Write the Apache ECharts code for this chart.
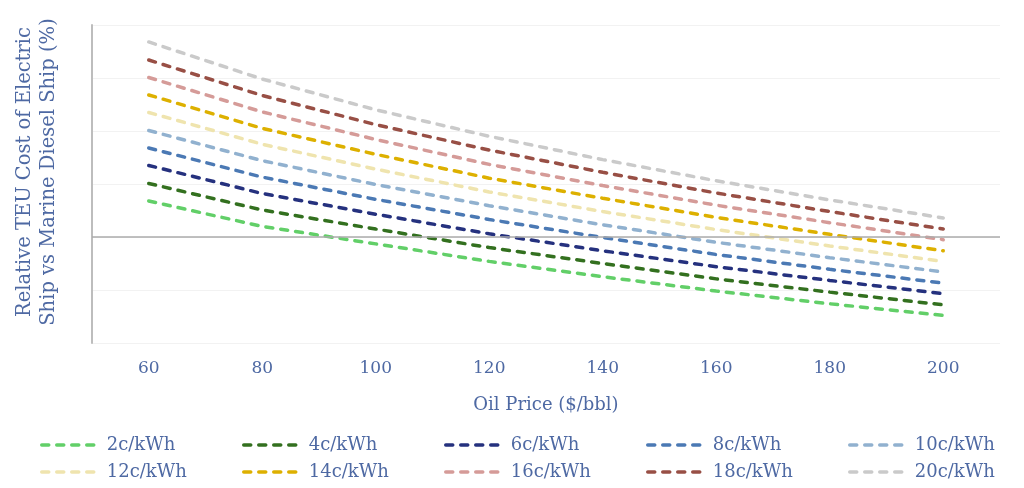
<!DOCTYPE html>
<html>
<head>
<meta charset="utf-8">
<script src="https://cdn.jsdelivr.net/npm/echarts@6/dist/echarts.min.js"></script>
<style>
  html, body { margin: 0; padding: 0; background: #fff; }
  #chart { width: 1024px; height: 488px; }
</style>
</head>
<body>
<div id="chart"></div>
<script>
// oil price categories ($/bbl)
var oilPrices = ['60', '80', '100', '120', '140', '160', '180', '200']

// relative TEU cost (%), one array per power price
var cost2c  = [6.8, 2.0, -1.3, -4.6, -7.5, -10.2, -12.6, -14.8]
var cost4c  = [10.1, 5.1, 1.5, -2.0, -5.0, -7.9, -10.4, -12.8]
var cost6c  = [13.5, 8.2, 4.3, 0.6, -2.6, -5.6, -8.2, -10.7]
var cost8c  = [16.8, 11.3, 7.1, 3.3, -0.1, -3.3, -6.1, -8.7]
var cost10c = [20.1, 14.4, 9.9, 5.9, 2.3, -1.0, -3.9, -6.6]
var cost12c = [23.5, 17.5, 12.8, 8.5, 4.8, 1.4, -1.7, -4.6]
var cost14c = [26.8, 20.5, 15.6, 11.1, 7.3, 3.7, 0.5, -2.6]
var cost16c = [30.1, 23.6, 18.4, 13.7, 9.7, 6.0, 2.7, -0.5]
var cost18c = [33.4, 26.7, 21.2, 16.4, 12.2, 8.3, 4.8, 1.5]
var cost20c = [36.8, 29.8, 24.0, 19.0, 14.6, 10.6, 7.0, 3.6]

var seriesNames = ['2c/kWh', '4c/kWh', '6c/kWh', '8c/kWh', '10c/kWh',
                   '12c/kWh', '14c/kWh', '16c/kWh', '18c/kWh', '20c/kWh']
var seriesData = [cost2c, cost4c, cost6c, cost8c, cost10c,
                  cost12c, cost14c, cost16c, cost18c, cost20c]
var seriesColors = ['#62cf68', '#33701f', '#25317e', '#4b79b4', '#91b1cf',
                    '#efe4ae', '#ddb000', '#d59b98', '#984f45', '#cacaca']

var textColor = '#4e69a3'
var fontFam = '"DejaVu Serif", serif'

var chart = echarts.init(document.getElementById('chart'))

var series = []
seriesNames.forEach(function (name, i) {
  var s = {
    name: name,
    type: 'line',
    data: seriesData[i],
    symbol: 'none',
    animation: false,
    lineStyle: { color: seriesColors[i], width: 3.5, type: [7, 8], cap: 'round' },
    itemStyle: { color: seriesColors[i] },
    z: 3
  }
  if (i === 0) {
    // zero line across the plot
    s.markLine = {
      silent: true,
      symbol: 'none',
      label: { show: false },
      lineStyle: { color: '#ababab', width: 1.5, type: 'solid' },
      data: [{ yAxis: 0 }]
    }
  }
  series.push(s)
})

// legend: 5 columns x 2 rows
var legends = []
for (var c = 0; c < 5; c++) {
  legends.push({
    orient: 'vertical',
    left: 40 + c * 202,
    top: 436,
    height: 60,
    padding: 0,
    itemWidth: 59,
    itemHeight: 12,
    itemGap: 9,
    itemStyle: { opacity: 0 },
    lineStyle: { width: 3.5 },
    data: [seriesNames[c], seriesNames[c + 5]],
    textStyle: { color: textColor, fontSize: 18, fontFamily: fontFam, padding: [0, 0, 0, 1] }
  })
}

var option = {
  backgroundColor: '#fff',
  animation: false,
  grid: { left: 92, right: 24, top: 25, bottom: 145, outerBoundsMode: 'none', containLabel: false },
  legend: legends,
  xAxis: {
    type: 'category',
    data: oilPrices,
    boundaryGap: true,
    name: 'Oil Price ($/bbl)',
    nameLocation: 'middle',
    nameGap: 53,
    nameTextStyle: { color: textColor, fontSize: 18, fontFamily: fontFam },
    axisLine: { show: false, onZero: false },
    axisTick: { show: false },
    axisLabel: { color: textColor, fontSize: 17, fontFamily: fontFam, margin: 17 },
    splitLine: { show: false }
  },
  yAxis: {
    type: 'value',
    min: -20,
    max: 40,
    interval: 10,
    name: 'Relative TEU Cost of Electric\nShip vs Marine Diesel Ship (%)',
    nameLocation: 'middle',
    nameGap: 31,
    nameTextStyle: { color: textColor, fontSize: 19.5, fontFamily: fontFam, lineHeight: 24, padding: [0, 0, 0, 24] },
    axisLine: { show: true, lineStyle: { color: '#bdbdbd', width: 2 } },
    axisTick: { show: false },
    axisLabel: { show: false },
    splitLine: { show: true, lineStyle: { color: '#f2f2f2', width: 1 } }
  },
  series: series
}

chart.setOption(option)
</script>
</body>
</html>
